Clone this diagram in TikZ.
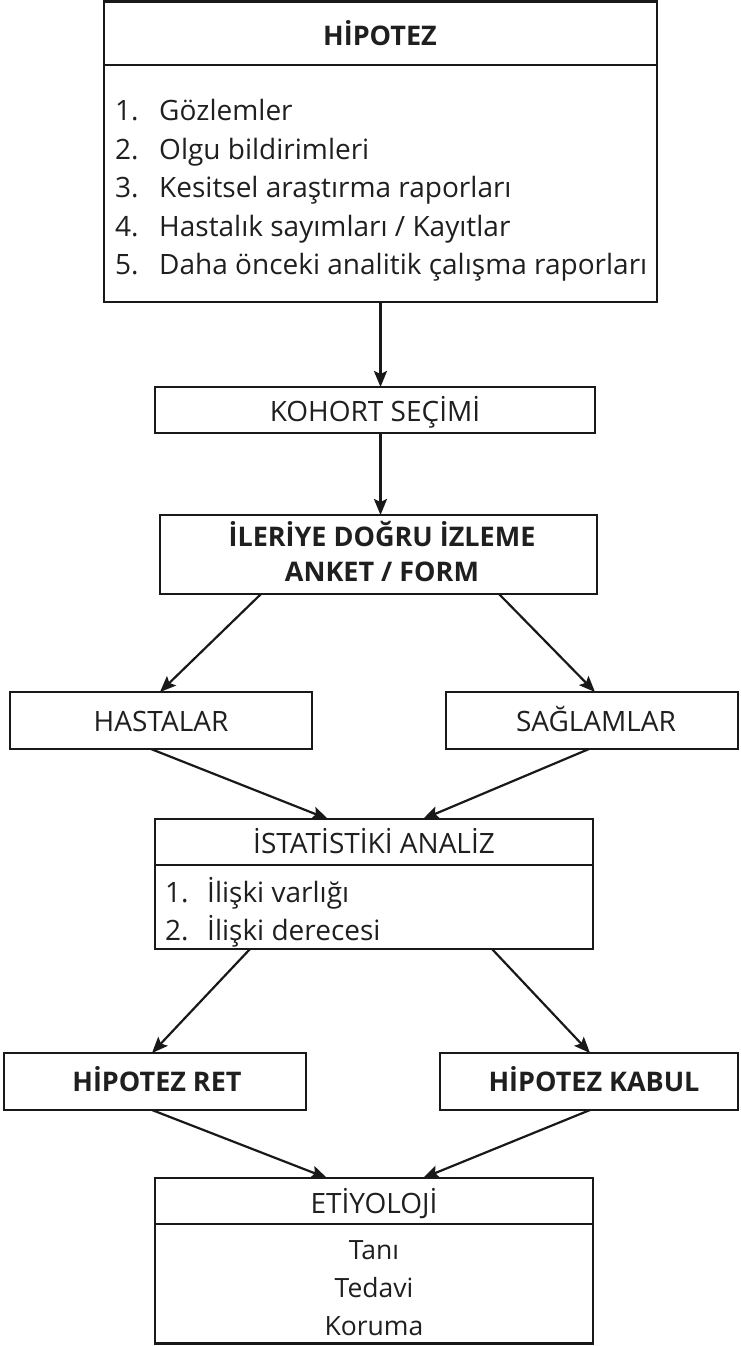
\documentclass[tikz,border=0pt]{standalone}
\usepackage{fontspec}
\setmainfont{Open Sans}
\usetikzlibrary{arrows.meta}
\begin{document}
\begin{tikzpicture}[x=1pt,y=-1pt,
  box/.style={draw=black!90, line width=2.6pt, outer sep=0pt, inner sep=0pt, anchor=north west, fill=white},
  txt/.style={font=\fontsize{28}{32}\selectfont, inner sep=0pt, text=black!88, text height=20pt, text depth=0pt},
  small/.style={txt, font=\fontsize{26.5}{30}\selectfont, text height=19pt},
  btxt/.style={txt, font=\fontsize{27}{31}\selectfont\bfseries, text height=19.3pt},
  num/.style={txt, anchor=west},
  arr/.style={draw=black!90, line width=2.2pt, -{Stealth[length=16pt,width=13pt,inset=3pt]}},
  divider/.style={draw=black!90, line width=2.6pt}
]
\useasboundingbox (0,0) rectangle (740,1346);

% hypothesis box with its list of sources
\node[box, minimum width=553pt, minimum height=300.5pt] (hyp) at (104,1.5) {};
\draw[divider] (hyp.west |- 0,65) -- (hyp.east |- 0,65);
\node[btxt] (hypt) at (380,36) {HİPOTEZ};
\node[num] (h1n) at (115,110) {1.};
\node[num] (h1) at (159,110) {Gözlemler};
\node[num] (h2n) at (115,149) {2.};
\node[num] (h2) at (159,149) {Olgu bildirimleri};
\node[num] (h3n) at (115,187) {3.};
\node[num] (h3) at (159,187) {Kesitsel araştırma raporları};
\node[num] (h4n) at (115,226) {4.};
\node[num] (h4) at (159,226) {Hastalık sayımları / Kayıtlar};
\node[num] (h5n) at (115,264) {5.};
\node[num] (h5) at (159,264) {Daha önceki analitik çalışma raporları};

% cohort selection
\node[box, minimum width=440pt, minimum height=46pt] (koh) at (155,387) {};
\node[txt] (koht) at (375,411) {KOHORT SEÇİMİ};

% prospective follow-up
\node[box, minimum width=437pt, minimum height=79pt] (ank) at (160,515) {};
\node[btxt] (ank1) at (382,537) {İLERİYE DOĞRU İZLEME};
\node[btxt] (ank2) at (382,572) {ANKET / FORM};

% patients and healthy subjects
\node[box, minimum width=302pt, minimum height=57pt] (hast) at (10,692) {};
\node[txt] (hastt) at (161,721) {HASTALAR};
\node[box, minimum width=292pt, minimum height=57pt] (sag) at (446,692) {};
\node[txt] (sagt) at (596,721) {SAĞLAMLAR};

% statistical analysis
\node[box, minimum width=438pt, minimum height=130pt] (ist) at (155,819) {};
\draw[divider] (ist.west |- 0,865) -- (ist.east |- 0,865);
\node[txt] (istt) at (374,843) {İSTATİSTİKİ ANALİZ};
\node[num] (i1n) at (165,892) {1.};
\node[num] (i1) at (207,892) {İlişki varlığı};
\node[num] (i2n) at (165,930) {2.};
\node[num] (i2) at (207,930) {İlişki derecesi};

% decision boxes
\node[box, minimum width=302pt, minimum height=57pt] (ret) at (4,1053) {};
\node[btxt] (rett) at (157,1082) {HİPOTEZ RET};
\node[box, minimum width=298pt, minimum height=57pt] (kab) at (440,1053) {};
\node[btxt] (kabt) at (594,1082) {HİPOTEZ KABUL};

% etiology
\node[box, minimum width=438pt, minimum height=165.5pt] (eti) at (155,1178) {};
\draw[divider] (eti.west |- 0,1224) -- (eti.east |- 0,1224);
\node[txt] (etit) at (374,1203) {ETİYOLOJİ};
\node[small] (e1) at (374,1250) {Tanı};
\node[small] (e2) at (374,1288) {Tedavi};
\node[small] (e3) at (374,1326) {Koruma};

% connectors
\draw[arr] (hyp.south) -- (hyp.south |- koh.north);
\draw[arr] (koh.south -| hyp.south) -- (ank.north -| hyp.south);
\draw[arr] ([xshift=-117.5pt]ank.south) -- ([xshift=-1pt]hast.north);
\draw[arr] ([xshift=120.5pt]ank.south) -- ([xshift=3pt]sag.north);
\draw[arr] ([xshift=-10pt]hast.south) -- ([xshift=-46pt]ist.north);
\draw[arr] ([xshift=-3pt]sag.south) -- ([xshift=49pt]ist.north);
\draw[arr] ([xshift=-124pt]ist.south) -- ([xshift=-3pt]ret.north);
\draw[arr] ([xshift=118pt]ist.south) -- ([xshift=1pt]kab.north);
\draw[arr] ([xshift=-3pt]ret.south) -- ([xshift=-47pt]eti.north);
\draw[arr] ([xshift=1pt]kab.south) -- ([xshift=49pt]eti.north);
\end{tikzpicture}
\end{document}
